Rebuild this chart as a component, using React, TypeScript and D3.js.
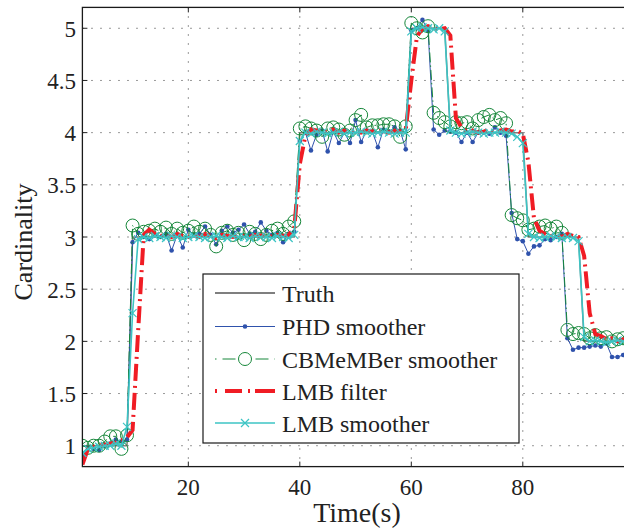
import React from "react";
import * as d3 from "d3";

const times: number[] = d3.range(1, 101);

const truth: number[] = [
  1, 1, 1, 1, 1, 1, 1, 1, 1, 3,
  3, 3, 3, 3, 3, 3, 3, 3, 3, 3,
  3, 3, 3, 3, 3, 3, 3, 3, 3, 3,
  3, 3, 3, 3, 3, 3, 3, 3, 3, 4,
  4, 4, 4, 4, 4, 4, 4, 4, 4, 4,
  4, 4, 4, 4, 4, 4, 4, 4, 4, 5,
  5, 5, 5, 5, 5, 5, 4, 4, 4, 4,
  4, 4, 4, 4, 4, 4, 4, 4, 4, 4,
  3, 3, 3, 3, 3, 3, 3, 3, 3, 3,
  2, 2, 2, 2, 2, 2, 2, 2, 2, 2,
];

const phdSmoother: number[] = [
  0.90, 0.98, 0.97, 0.96, 1.00, 1.02, 1.06, 1.04, 1.06, 2.95,
  3.04, 3.00, 2.98, 3.02, 3.00, 3.03, 2.87, 3.02, 2.90, 3.07,
  3.02, 3.03, 3.10, 3.02, 2.93, 3.06, 3.10, 3.04, 3.07, 3.12,
  3.03, 3.05, 3.14, 3.06, 3.02, 3.04, 2.95, 3.03, 3.05, 3.92,
  4.00, 3.83, 3.98, 4.02, 3.82, 4.01, 3.90, 4.00, 3.90, 4.12,
  3.91, 4.02, 4.01, 3.86, 4.03, 4.01, 4.05, 4.02, 3.84, 4.98,
  5.00, 5.08, 4.98, 4.03, 3.98, 4.02, 4.01, 4.00, 3.91, 4.00,
  3.91, 4.00, 4.00, 3.99, 4.05, 4.00, 3.97, 3.23, 2.98, 2.96,
  2.84, 2.91, 2.92, 2.98, 2.97, 3.00, 3.03, 2.03, 1.92, 1.94,
  1.94, 1.95, 1.96, 1.95, 1.98, 1.85, 1.85, 1.87, 1.87, 1.88,
];

const cbmemberSmoother: number[] = [
  1.00, 0.98, 1.00, 1.00, 1.04, 1.09, 1.09, 0.97, 1.10, 3.11,
  3.03, 3.05, 3.06, 3.08, 3.05, 3.09, 3.03, 3.08, 3.04, 3.06,
  3.10, 3.05, 3.08, 3.02, 2.91, 3.04, 3.06, 3.02, 3.04, 2.97,
  3.05, 3.03, 2.98, 3.02, 3.06, 3.08, 3.03, 3.10, 3.15, 4.04,
  4.06, 4.04, 4.02, 3.96, 4.04, 4.05, 4.03, 3.98, 4.02, 4.12,
  4.17, 4.05, 4.07, 4.07, 4.08, 4.08, 4.06, 3.96, 4.06, 5.05,
  5.00, 4.96, 5.02, 4.19, 4.14, 4.10, 4.06, 4.10, 4.09, 4.10,
  4.04, 4.12, 4.15, 4.17, 4.12, 4.14, 4.09, 3.21, 3.18, 3.16,
  3.07, 3.08, 3.10, 3.11, 3.08, 3.10, 3.04, 2.11, 2.07, 2.08,
  2.07, 2.03, 2.06, 2.03, 2.04, 2.00, 2.02, 2.03, 2.01, 2.02,
];

const lmbFilter: number[] = [
  0.82, 0.97, 0.99, 1.00, 1.01, 1.02, 1.03, 1.05, 1.08, 1.15,
  2.10, 3.02, 3.07, 3.03, 3.01, 3.02, 3.00, 3.03, 3.01, 3.00,
  3.02, 3.00, 3.03, 3.01, 2.99, 3.02, 3.01, 3.00, 3.02, 3.01,
  3.00, 3.02, 3.01, 3.03, 3.00, 3.02, 3.01, 3.02, 3.08, 3.70,
  3.97, 4.03, 4.02, 4.00, 4.01, 4.03, 4.00, 4.02, 4.01, 4.03,
  4.00, 4.02, 4.01, 4.03, 4.02, 4.00, 4.02, 4.01, 4.03, 4.50,
  4.92, 5.00, 5.02, 5.00, 4.99, 5.00, 4.93, 4.14, 4.05, 4.01,
  4.02, 4.00, 4.01, 4.03, 4.00, 4.02, 4.03, 4.01, 4.02, 3.99,
  3.72, 3.18, 3.06, 3.03, 3.01, 3.02, 3.00, 3.03, 3.01, 3.00,
  2.82, 2.27, 2.07, 2.05, 2.02, 2.03, 2.00, 2.02, 2.01, 2.02,
];

const lmbSmoother: number[] = [
  0.93, 0.97, 0.98, 0.99, 1.00, 1.00, 1.02, 1.00, 1.18, 2.27,
  2.98, 3.00, 2.99, 3.01, 3.00, 2.99, 3.01, 3.00, 2.99, 3.00,
  3.01, 3.00, 2.99, 3.00, 3.01, 3.00, 2.99, 3.01, 3.00, 3.00,
  2.99, 3.01, 3.00, 3.00, 2.99, 3.01, 3.00, 2.99, 3.02, 3.92,
  4.00, 3.99, 4.01, 4.00, 3.99, 4.00, 4.01, 3.99, 4.00, 4.00,
  4.01, 4.00, 3.99, 4.00, 4.01, 4.00, 3.99, 4.00, 4.00, 4.97,
  5.00, 5.01, 5.00, 4.99, 5.00, 4.97, 4.02, 4.00, 3.99, 4.00,
  4.01, 4.00, 3.99, 4.00, 4.00, 4.01, 4.00, 3.99, 3.96, 3.90,
  3.03, 3.00, 2.99, 3.00, 3.01, 3.00, 2.99, 3.00, 2.99, 2.96,
  2.04, 2.00, 2.01, 2.00, 1.99, 2.00, 2.01, 2.00, 1.99, 2.00,
];

const xTicks: number[] = [20, 40, 60, 80];
const xTickLabels: string[] = ["20", "40", "60", "80"];
const yTicks: number[] = [1, 1.5, 2, 2.5, 3, 3.5, 4, 4.5, 5];
const yTickLabels: string[] = ["1", "1.5", "2", "2.5", "3", "3.5", "4", "4.5", "5"];
const legendLabels: string[] = ["Truth", "PHD smoother", "CBMeMBer smoother", "LMB filter", "LMB smoother"];

const W = 624;
const H = 532;
const FONT = "'Liberation Serif', 'Times New Roman', serif";

const C_TRUTH = "#7f7f7f";
const C_PHD = "#2f52ac";
const C_CB = "#16873a";
const C_LMBF = "#f01c24";
const C_LMBS = "#3cc4c4";

export default function App() {
  const left = 82.4, right = 634.3, top = 7.4, bottom = 466.6;
  const x = d3.scaleLinear().domain([1, 100]).range([left, right]);
  const y = d3.scaleLinear().domain([0.8, 5.2]).range([bottom, top]);

  const mk = (vals: number[]) =>
    d3.line<number>().x((_, i) => x(times[i])).y((d) => y(d))(vals) || "";

  const tickLen = 5;
  const gridDash = "1.2,7.8";

  const xMarker = (cx: number, cy: number, s: number, key: string) => (
    <path key={key} d={`M${cx - s},${cy - s}L${cx + s},${cy + s}M${cx - s},${cy + s}L${cx + s},${cy - s}`}
      stroke={C_LMBS} strokeWidth={1.2} fill="none" />
  );

  const legX = 203, legY = 274, legW = 316, legH = 169;
  const rowY = [293, 326.5, 359, 391, 423];
  const sx0 = 215, sx1 = 275, sxm = 245;

  return (
    <svg width={W} height={H} style={{ position: "absolute", left: 0, top: 0, background: "#fff" }}
      fontFamily={FONT}>
      <defs>
        <clipPath id="plotClip">
          <rect x={left} y={top} width={right - left} height={bottom - top} />
        </clipPath>
      </defs>
      <rect x={0} y={0} width={W} height={H} fill="#fff" />

      {/* grid */}
      <g stroke="#555" strokeWidth={1} strokeDasharray={gridDash}>
        {xTicks.map((t) => (
          <line key={"gx" + t} x1={x(t)} x2={x(t)} y1={top} y2={bottom} />
        ))}
        {yTicks.map((t) => (
          <line key={"gy" + t} x1={left} x2={right} y1={y(t)} y2={y(t)} />
        ))}
      </g>

      {/* ticks */}
      <g stroke="#222" strokeWidth={1}>
        {xTicks.map((t) => (
          <g key={"tx" + t}>
            <line x1={x(t)} x2={x(t)} y1={bottom} y2={bottom - tickLen} />
            <line x1={x(t)} x2={x(t)} y1={top} y2={top + tickLen} />
          </g>
        ))}
        {yTicks.map((t) => (
          <g key={"ty" + t}>
            <line x1={left} x2={left + tickLen} y1={y(t)} y2={y(t)} />
            <line x1={right} x2={right - tickLen} y1={y(t)} y2={y(t)} />
          </g>
        ))}
      </g>

      {/* data */}
      <g clipPath="url(#plotClip)">
        <path d={mk(truth)} fill="none" stroke={C_TRUTH} strokeWidth={1.5} />
        <path d={mk(phdSmoother)} fill="none" stroke={C_PHD} strokeWidth={1} />
        {phdSmoother.map((v, i) => (
          <circle key={"p" + i} cx={x(times[i])} cy={y(v)} r={2.3} fill={C_PHD} />
        ))}
        <path d={mk(cbmemberSmoother)} fill="none" stroke={C_CB} strokeWidth={1} strokeDasharray="10,3,1.5,3" />
        {cbmemberSmoother.map((v, i) => (
          <circle key={"c" + i} cx={x(times[i])} cy={y(v)} r={6.5} fill="none" stroke={C_CB} strokeWidth={1} />
        ))}
        <path d={mk(lmbFilter)} fill="none" stroke={C_LMBF} strokeWidth={4} strokeDasharray="17,5,2,5" />
        <path d={mk(lmbSmoother)} fill="none" stroke={C_LMBS} strokeWidth={1.6} />
        {lmbSmoother.map((v, i) => xMarker(x(times[i]), y(v), 4, "s" + i))}
      </g>

      {/* box */}
      <rect x={left} y={top} width={right - left} height={bottom - top} fill="none" stroke="#1a1a1a" strokeWidth={1.3} />

      {/* tick labels */}
      <g fontSize={23} fill="#222">
        {xTicks.map((t, i) => (
          <text key={"lx" + t} x={x(t)} y={495} textAnchor="middle">{xTickLabels[i]}</text>
        ))}
        {yTicks.map((t, i) => (
          <text key={"ly" + t} x={76} y={y(t) + 8.5} textAnchor="end">{yTickLabels[i]}</text>
        ))}
      </g>

      {/* axis labels */}
      <text x={357} y={522} textAnchor="middle" fontSize={28} fill="#222">Time(s)</text>
      <text transform={`translate(32,${(top + bottom) / 2 + 5}) rotate(-90)`} textAnchor="middle" fontSize={26} fill="#222">Cardinality</text>

      {/* legend */}
      <rect x={legX} y={legY} width={legW} height={legH} fill="#fff" stroke="#1a1a1a" strokeWidth={1.2} />
      <line x1={sx0} x2={sx1} y1={rowY[0]} y2={rowY[0]} stroke={C_TRUTH} strokeWidth={2} />
      <line x1={sx0} x2={sx1} y1={rowY[1]} y2={rowY[1]} stroke={C_PHD} strokeWidth={1} />
      <circle cx={sxm} cy={rowY[1]} r={2.3} fill={C_PHD} />
      <line x1={sx0} x2={sx1} y1={rowY[2]} y2={rowY[2]} stroke={C_CB} strokeWidth={1} strokeDasharray="1.5,6,13,20,13,6,1.5" />
      <circle cx={sxm} cy={rowY[2]} r={6.5} fill="none" stroke={C_CB} strokeWidth={1} />
      <line x1={sx0} x2={sx1} y1={rowY[3]} y2={rowY[3]} stroke={C_LMBF} strokeWidth={4} strokeDasharray="2,8,17,6,2,5,25" />
      <line x1={sx0} x2={sx1} y1={rowY[4]} y2={rowY[4]} stroke={C_LMBS} strokeWidth={1.6} />
      {xMarker(sxm, rowY[4], 4, "legx")}
      <g fontSize={24} fill="#222">
        {legendLabels.map((l, i) => (
          <text key={l} x={282} y={rowY[i] + 8.5}>{l}</text>
        ))}
      </g>
    </svg>
  );
}
